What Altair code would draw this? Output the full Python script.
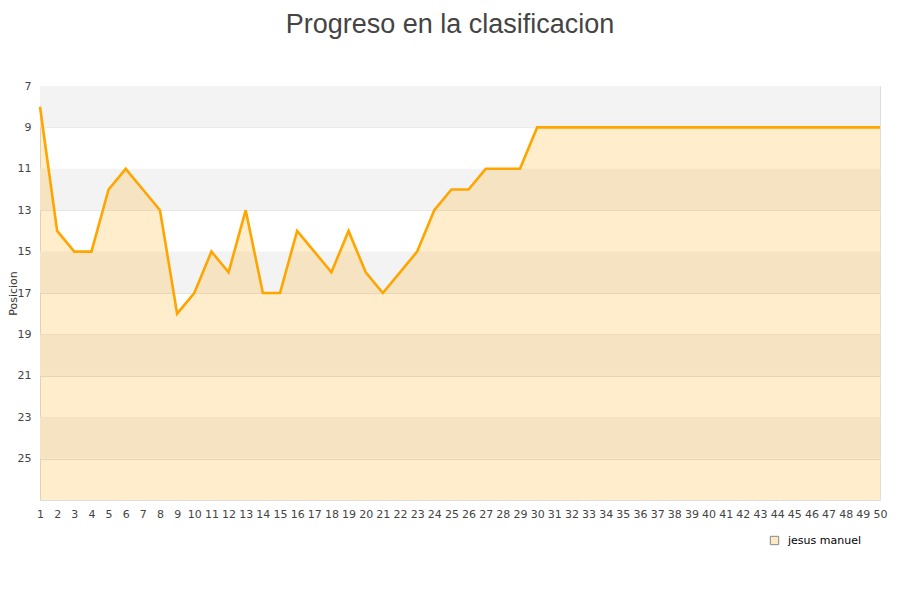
import altair as alt
import pandas as pd

jornadas = list(range(1, 51))
posiciones = [8, 14, 15, 15, 12, 11, 12, 13, 18, 17,
              15, 16, 13, 17, 17, 14, 15, 16, 14, 16,
              17, 16, 15, 13, 12, 12, 11, 11, 11, 9,
              9, 9, 9, 9, 9, 9, 9, 9, 9, 9,
              9, 9, 9, 9, 9, 9, 9, 9, 9, 9]
serie = "jesus manuel"
y_ticks = [7, 9, 11, 13, 15, 17, 19, 21, 23, 25]
band_start = [7, 11, 15, 19, 23]
band_end = [9, 13, 17, 21, 25]

df = pd.DataFrame({"jornada": jornadas, "posicion": posiciones, "serie": serie})
df["base"] = 27
bands = pd.DataFrame({"y1": band_start, "y2": band_end})

xscale = alt.Scale(domain=[1, 50], nice=False, zero=False)
yscale = alt.Scale(domain=[7, 27], reverse=True, nice=False, zero=False)

x_axis = alt.Axis(values=jornadas, labelFontSize=11, labelColor="#444", labelFont="DejaVu Sans",
                  ticks=False, grid=False, domain=False, labelPadding=8, title=None,
                  labelOverlap=False, labelFlush=False, labelBound=False, format="d")
y_axis = alt.Axis(values=y_ticks, labelFontSize=11, labelColor="#444", labelFont="DejaVu Sans",
                  ticks=False, grid=True, gridColor="#e2e2e2", domain=False, labelPadding=9,
                  labelOverlap=False,
                  title="Posicion", titleFontSize=11, titleFont="DejaVu Sans", titleColor="#333",
                  titleFontWeight="normal", titleX=-26.5, titleY=207, titleAngle=270,
                  titleBaseline="middle", titleAlign="center", format="d")

band_layer = alt.Chart(bands).mark_rect(color="#f3f3f3").encode(
    y=alt.Y("y1:Q", scale=yscale, axis=y_axis),
    y2="y2:Q",
    x=alt.value(0),
    x2=alt.value(840),
)

area = alt.Chart(df).mark_area(opacity=0.2, interpolate="linear", color="#ffa500").encode(
    x=alt.X("jornada:Q", scale=xscale, axis=x_axis),
    y=alt.Y("posicion:Q", scale=yscale, axis=y_axis),
    y2="base:Q",
)

legend_layer = alt.Chart(df).mark_square(size=0, opacity=1).encode(
    x=alt.X("jornada:Q", scale=xscale, axis=x_axis),
    y=alt.Y("posicion:Q", scale=yscale, axis=y_axis),
    fill=alt.Fill("serie:N", scale=alt.Scale(domain=[serie], range=["#fde9c6"]),
                  legend=alt.Legend(title=None, orient="none", legendX=729, legendY=449,
                                    symbolType="square", symbolSize=70,
                                    symbolStrokeColor="#888", symbolStrokeWidth=1,
                                    symbolOpacity=1,
                                    labelFontSize=11, labelFont="DejaVu Sans",
                                    labelColor="#000", padding=0, labelOffset=8)),
)

line = alt.Chart(df).mark_line(color="#ffa500", strokeWidth=2.6, interpolate="linear").encode(
    x=alt.X("jornada:Q", scale=xscale, axis=x_axis),
    y=alt.Y("posicion:Q", scale=yscale, axis=y_axis),
)

chart = alt.layer(band_layer, area, line, legend_layer).properties(
    width=840,
    height=414,
    padding={"left": 32, "top": 78, "right": 10, "bottom": 80},
    autosize=alt.AutoSizeParams(type="none"),
    title=alt.TitleParams("Progreso en la clasificacion", fontSize=27, font="Liberation Sans",
                          fontWeight="normal", color="#444", anchor="middle", offset=41,
                          dx=-10, frame="group"),
    background="white",
).configure_view(stroke="#dddddd", strokeWidth=1).configure_axisX(labelOverlap=False)

chart.save("out.html", embed_options={"renderer": "svg", "actions": False})
